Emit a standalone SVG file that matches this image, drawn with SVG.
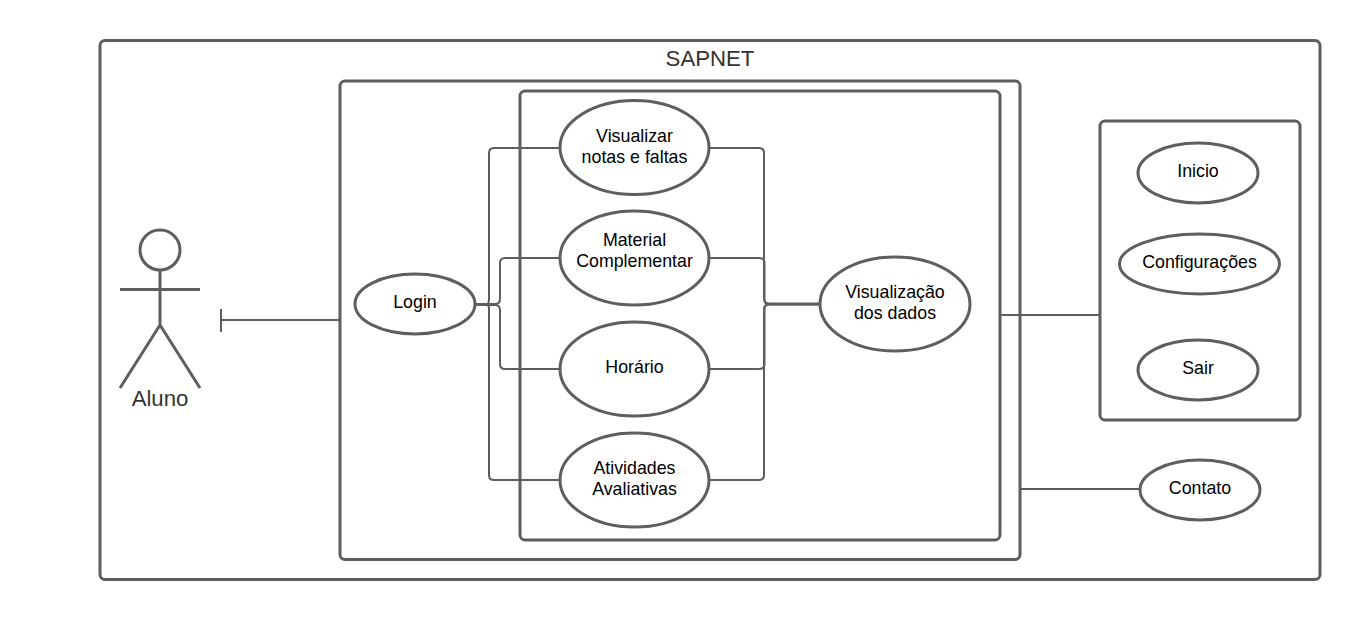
<svg xmlns="http://www.w3.org/2000/svg" width="1360" height="620" viewBox="0 0 1360 620">
<style>
.b{fill:none;stroke:#5e5e5e;stroke-width:3}
.e{fill:#fff;stroke:#5e5e5e;stroke-width:3}
.c{fill:none;stroke:#5e5e5e;stroke-width:2}
.a{stroke:#5e5e5e;stroke-width:3;fill:none}
text{font-family:"Liberation Sans",Arial,sans-serif;font-size:17.8px;fill:#000;text-anchor:middle}
.t{font-size:22.2px;fill:#333}
</style>
<rect width="1360" height="620" fill="#fff"/>
<g id="sapnet"><rect class="b" x="100" y="40.500" width="1220" height="539" rx="5"/><text class="t" x="710" y="66">SAPNET</text></g>
<g id="box-main"><rect class="b" x="340" y="81" width="680" height="478.500" rx="5"/></g>
<g id="box-inner"><rect class="b" x="520" y="91" width="480" height="449" rx="5"/></g>
<g id="box-menu"><rect class="b" x="1100" y="121" width="200" height="299" rx="5"/></g>
<g id="connectors">
<path class="c" d="M475 304.500H485Q489 304.500 489 300V153Q489 148 494 148H560"/>
<path class="c" d="M475 304.500H485Q489 304.500 489 308V475Q489 480 494 480H560"/>
<path class="c" d="M475 304H495Q500 304 500 299V263Q500 258 505 258H560"/>
<path class="c" d="M475 305H495Q500 305 500 310V364Q500 369 505 369H560"/>
<path class="c" d="M709 148H759Q764 148 764 153V299Q764 303.500 769 303.500H820"/>
<path class="c" d="M709 258H759Q764.500 258 764.500 263V299Q764.500 304 769 304H820"/>
<path class="c" d="M709 369H759Q764.500 369 764.500 364V309Q764.500 304.500 769 304.500H820"/>
<path class="c" d="M709 480H759Q764 480 764 475V309Q764 304.500 769 304.500H820"/>
<path class="c" d="M340 320H221M221 309V332"/>
<path class="c" d="M1000 315H1100"/>
<path class="c" d="M1020 489H1140"/>
</g>
<g id="aluno"><circle class="a" cx="160" cy="250" r="20"/><path class="a" d="M160 270V325M120 289.500H200M120 388L160 325L200 388"/><text class="t" x="160" y="406">Aluno</text></g>
<g id="login"><ellipse class="e" cx="415" cy="304" rx="60" ry="30"/><text x="415" y="308">Login</text></g>
<g id="notas"><ellipse class="e" cx="634.500" cy="147.500" rx="74.500" ry="47"/><text x="634.500" y="142">Visualizar</text><text x="634.500" y="163">notas e faltas</text></g>
<g id="material"><ellipse class="e" cx="634.500" cy="258" rx="74.500" ry="47"/><text x="634.500" y="246">Material</text><text x="634.500" y="267">Complementar</text></g>
<g id="horario"><ellipse class="e" cx="634.500" cy="369" rx="74.500" ry="47"/><text x="634.500" y="372.500">Horário</text></g>
<g id="atividades"><ellipse class="e" cx="634.500" cy="480" rx="74.500" ry="47"/><text x="634.500" y="474">Atividades</text><text x="634.500" y="495">Avaliativas</text></g>
<g id="dados"><ellipse class="e" cx="895" cy="304" rx="75" ry="47"/><text x="895" y="298">Visualização</text><text x="895" y="319">dos dados</text></g>
<g id="inicio"><ellipse class="e" cx="1198" cy="173" rx="60" ry="30"/><text x="1198" y="177">Inicio</text></g>
<g id="config"><ellipse class="e" cx="1199.500" cy="264" rx="80" ry="30"/><text x="1199.500" y="267.500">Configurações</text></g>
<g id="sair"><ellipse class="e" cx="1198" cy="370" rx="60" ry="30"/><text x="1198" y="374">Sair</text></g>
<g id="contato"><ellipse class="e" cx="1200" cy="490" rx="60" ry="30"/><text x="1200" y="493.500">Contato</text></g>
</svg>
